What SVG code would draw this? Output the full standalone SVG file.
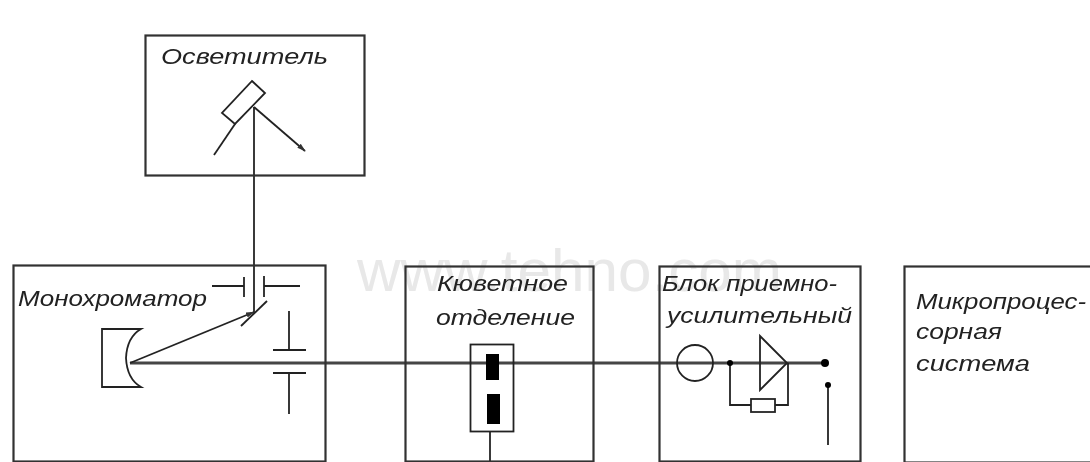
<svg xmlns="http://www.w3.org/2000/svg" width="1090" height="462" viewBox="0 0 1090 462">
<defs>
<filter id="soft" x="-2%" y="-2%" width="104%" height="104%"><feGaussianBlur stdDeviation="0.7"/></filter>
<marker id="ah" viewBox="0 0 10 8" refX="9" refY="4" markerWidth="9" markerHeight="7" markerUnits="userSpaceOnUse" orient="auto"><path d="M0 1L10 4L0 7Z" fill="#333"/></marker>
</defs>
<style>
.b{fill:none;stroke:#333;stroke-width:2.2}
.l{fill:none;stroke:#222;stroke-width:1.8}
.m{fill:none;stroke:#444;stroke-width:2.8}
.t{font-family:"Liberation Sans",Arial,sans-serif;font-style:italic;font-size:22px;fill:#222}
.w{font-family:"Liberation Sans",Arial,sans-serif;font-size:60px;fill:#e8e8e8}
.d{fill:#000}
</style>
<rect width="1090" height="462" fill="#fff"/>
<g filter="url(#soft)">
<text class="w" x="357" y="291" textLength="425" lengthAdjust="spacingAndGlyphs">www.tehno.com</text>
<g id="connectors">
<path class="m" d="M130 363H825"/>
<path class="l" d="M254 107V312"/>
<path class="l" d="M130 363L254 312" marker-end="url(#ah)"/>
<path class="l" d="M490 431V461"/>
</g>
<g id="osvetitel">
<rect class="b" x="145.500" y="35.500" width="219" height="140"/>
<text class="t" x="161" y="64" textLength="167" lengthAdjust="spacingAndGlyphs">Осветитель</text>
<path class="l" d="M252 81L265 93L235 124L222 113Z"/>
<path class="l" d="M235 124L214 155"/>
<path class="l" d="M254 107L305 151" marker-end="url(#ah)"/>
</g>
<g id="monochromator">
<rect class="b" x="13.500" y="265.500" width="312" height="196"/>
<text class="t" x="18" y="306" textLength="189" lengthAdjust="spacingAndGlyphs">Монохроматор</text>
<path class="l" d="M212 286H244M244 277V297M264 276V297M264 286H300"/>
<path class="l" d="M267 301L241 326"/>
<path class="l" d="M289 311V350M273 350H306M273 373H306M289 373V414"/>
<path class="l" d="M141 329H102V387H141Q127 379 126 358Q127 337 141 329Z"/>
</g>
<g id="kyuvetnoe">
<rect class="b" x="405.500" y="266.500" width="188" height="195"/>
<text class="t" x="437" y="291" textLength="131" lengthAdjust="spacingAndGlyphs">Кюветное</text>
<text class="t" x="436" y="325" textLength="139" lengthAdjust="spacingAndGlyphs">отделение</text>
<rect class="l" x="470.500" y="344.500" width="43" height="87"/>
<rect class="d" x="486" y="354" width="13" height="26"/>
<rect class="d" x="487" y="394" width="13" height="30"/>
</g>
<g id="priemno">
<rect class="b" x="659.500" y="266.500" width="201" height="195"/>
<text class="t" x="662" y="291" textLength="175" lengthAdjust="spacingAndGlyphs">Блок приемно-</text>
<text class="t" x="667" y="323" textLength="185" lengthAdjust="spacingAndGlyphs">усилительный</text>
<circle class="l" cx="695" cy="363" r="18"/>
<path class="l" d="M760 336L787 363L760 390Z"/>
<path class="l" d="M730 363V405H751M775 405H788V363M828 385V445"/>
<rect class="l" x="751" y="399" width="24" height="13"/>
<circle class="d" cx="730" cy="363" r="3"/>
<circle class="d" cx="825" cy="363" r="4"/>
<circle class="d" cx="828" cy="385" r="3"/>
</g>
<g id="microprocessor">
<rect class="b" x="904.500" y="266.500" width="190" height="196"/>
<text class="t" x="916" y="309" textLength="170" lengthAdjust="spacingAndGlyphs">Микропроцес-</text>
<text class="t" x="916" y="339" textLength="86" lengthAdjust="spacingAndGlyphs">сорная</text>
<text class="t" x="916" y="371" textLength="114" lengthAdjust="spacingAndGlyphs">система</text>
</g>
</g>
</svg>
